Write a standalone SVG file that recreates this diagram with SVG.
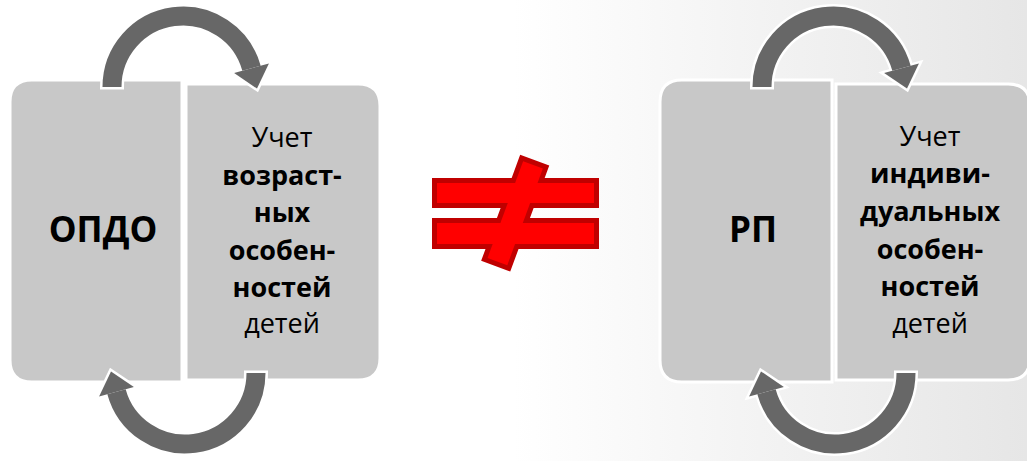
<svg xmlns="http://www.w3.org/2000/svg" width="1027" height="461" viewBox="0 0 1027 461">
<defs>
<linearGradient id="bg" x1="0" y1="0" x2="1" y2="0">
<stop offset="0" stop-color="#ffffff"/>
<stop offset="0.5" stop-color="#ffffff"/>
<stop offset="1" stop-color="#e6e6e6"/>
</linearGradient>
<style>
.box{fill:#c8c8c8;stroke:#ffffff;stroke-width:3}
.shaftW{fill:none;stroke:#ffffff;stroke-width:24}
.shaft{fill:none;stroke:#676767;stroke-width:19}
.headW{fill:#ffffff;stroke:#ffffff;stroke-width:5;stroke-linejoin:miter}
.head{fill:#676767}
.t{font-family:"Open Sans","Liberation Sans",sans-serif;fill:#000000;text-anchor:middle}
.big{font-size:35px;font-weight:bold}
.r{font-size:27px}
.b{font-size:27px;font-weight:bold}
.neO{fill:#c00000;stroke:#c00000;stroke-width:10;stroke-linejoin:miter}
.neF{fill:#ff0000}
</style>
<g id="arrowTopDef">
<path class="shaftW" d="M112,89.5 L112,87 A71,71 0 0 1 251.5,68.3"/>
<polygon class="headW" points="234.1,73.1 268.9,63.5 257,88.6"/>
<path class="shaft" d="M112,87 A71,71 0 0 1 251.5,68.3"/>
<polygon class="head" points="234.1,73.1 268.9,63.5 257,88.6"/>
</g>
<g id="arrowBotDef">
<path class="shaftW" d="M256,370.5 L256,373 A71,71 0 0 1 116.5,391.7"/>
<polygon class="headW" points="99.1,396.5 133.9,386.9 111,371.4"/>
<path class="shaft" d="M256,373 A71,71 0 0 1 116.5,391.7"/>
<polygon class="head" points="99.1,396.5 133.9,386.9 111,371.4"/>
</g>
</defs>
<rect x="0" y="0" width="1027" height="461" fill="url(#bg)"/>

<g id="node-opdo">
<path class="box" d="M32,80 H182 V382 H32 Q10,382 10,360 V102 Q10,80 32,80 Z"/>
<text class="t big" x="103" y="242">ОПДО</text>
</g>
<g id="node-vozrast">
<path class="box" d="M186,84 H358 Q380,84 380,106 V358 Q380,380 358,380 H186 Z"/>
<text class="t" x="282"><tspan class="r" x="282" y="147">Учет</tspan><tspan class="b" x="282" y="185">возраст-</tspan><tspan class="b" x="282" y="222">ных</tspan><tspan class="b" x="282" y="260">особен-</tspan><tspan class="b" x="282" y="297">ностей</tspan><tspan class="r" x="282" y="333">детей</tspan></text>
</g>

<g id="node-rp">
<path class="box" d="M682,80 H832 V382 H682 Q660,382 660,360 V102 Q660,80 682,80 Z"/>
<text class="t big" x="753" y="242">РП</text>
</g>
<g id="node-individ">
<path class="box" d="M836,84 H1008 Q1030,84 1030,106 V358 Q1030,380 1008,380 H836 Z"/>
<text class="t" x="930"><tspan class="r" x="930" y="146">Учет</tspan><tspan class="b" x="930" y="183">индиви-</tspan><tspan class="b" x="930" y="221">дуальных</tspan><tspan class="b" x="930" y="259">особен-</tspan><tspan class="b" x="930" y="296">ностей</tspan><tspan class="r" x="930" y="333">детей</tspan></text>
</g>

<g id="node-not-equal">
<rect class="neO" x="437" y="183" width="157" height="20"/>
<rect class="neO" x="437" y="223" width="157" height="21"/>
<rect class="neO" x="-10.5" y="-51.5" width="21" height="103" transform="translate(515.2,213.2) rotate(20.2)"/>
<rect class="neF" x="437" y="183" width="157" height="20"/>
<rect class="neF" x="437" y="223" width="157" height="21"/>
<rect class="neF" x="-10.5" y="-51.5" width="21" height="103" transform="translate(515.2,213.2) rotate(20.2)"/>
</g>

<g id="connectors">
<use href="#arrowTopDef"/>
<use href="#arrowBotDef"/>
<use href="#arrowTopDef" transform="translate(650,0)"/>
<use href="#arrowBotDef" transform="translate(650,0)"/>
</g>
</svg>
